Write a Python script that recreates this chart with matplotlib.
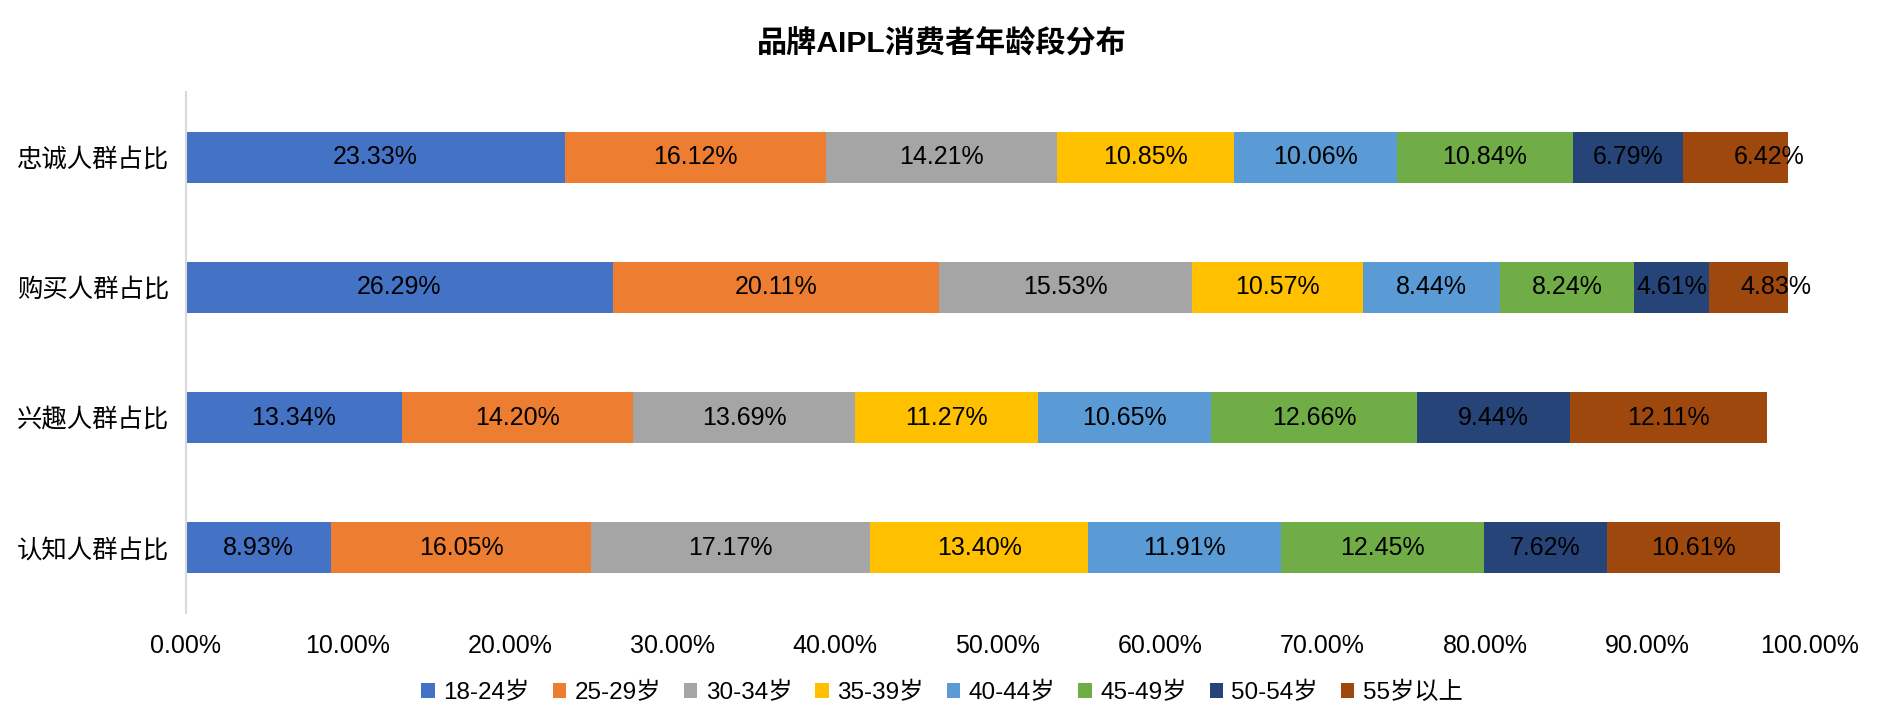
import matplotlib
matplotlib.use("Agg")
import matplotlib.pyplot as plt
from matplotlib.ticker import FuncFormatter, MultipleLocator

plt.rcParams['font.family'] = ['Liberation Sans', 'Noto Sans CJK SC', 'DejaVu Sans']

title = "品牌AIPL消费者年龄段分布"
categories = ["忠诚人群占比", "购买人群占比", "兴趣人群占比", "认知人群占比"]
series_names = ["18-24岁", "25-29岁", "30-34岁", "35-39岁", "40-44岁", "45-49岁", "50-54岁", "55岁以上"]
# values in percent, per series, in the order of categories
s_18_24 = [23.33, 26.29, 13.34, 8.93]
s_25_29 = [16.12, 20.11, 14.20, 16.05]
s_30_34 = [14.21, 15.53, 13.69, 17.17]
s_35_39 = [10.85, 10.57, 11.27, 13.40]
s_40_44 = [10.06, 8.44, 10.65, 11.91]
s_45_49 = [10.84, 8.24, 12.66, 12.45]
s_50_54 = [6.79, 4.61, 9.44, 7.62]
s_55_up = [6.42, 4.83, 12.11, 10.61]
series = [s_18_24, s_25_29, s_30_34, s_35_39, s_40_44, s_45_49, s_50_54, s_55_up]

colors = ["#4472C4", "#ED7D31", "#A5A5A5", "#FFC000", "#5B9BD5", "#70AD47", "#264478", "#9E480E"]

W, H = 1884, 725
fig = plt.figure(figsize=(W / 100, H / 100), dpi=100)
ax = fig.add_axes([185.6 / W, (H - 613) / H, (1810 - 185.6) / W, (613 - 92) / H])

ypos = list(range(len(categories)))
left = [0.0] * len(categories)
# label shift (fraction of axis) for a few manually-moved labels: (series idx, category idx) -> dx
label_shift = {(7, 0): 0.021, (7, 1): 0.017}
for si, (name, vals, c) in enumerate(zip(series_names, series, colors)):
    fr = [v / 100 for v in vals]
    ax.barh(ypos, fr, left=left, height=0.39, color=c, label=name, linewidth=0)
    for ci, (l, w, v) in enumerate(zip(left, fr, vals)):
        dx = label_shift.get((si, ci), 0.0)
        ax.text(l + w / 2 + dx, ci, f"{v:.2f}%", ha="center", va="center",
                fontsize=18, color="black")
    left = [a + b for a, b in zip(left, fr)]

ax.set_xlim(0, 1)
ax.set_ylim(len(categories) - 0.5, -0.5)
ax.set_yticks(ypos)
ax.set_yticklabels(categories, fontsize=18.3)
ax.xaxis.set_major_locator(MultipleLocator(0.1))
ax.xaxis.set_major_formatter(FuncFormatter(lambda x, p: f"{x * 100:.2f}%"))
ax.tick_params(axis="x", length=0, labelsize=18, pad=15)
ax.tick_params(axis="y", length=0, pad=12)
for s in ["top", "right", "bottom"]:
    ax.spines[s].set_visible(False)
ax.spines["left"].set_color("#D9D9D9")
ax.spines["left"].set_linewidth(1.5)

fig.text(0.5, 1 - 44 / H, title, ha="center", va="center", fontsize=21.7, fontweight="bold")

fig.legend(loc="center", bbox_to_anchor=(0.5, 1 - 693 / H), ncol=8, frameon=False,
           fontsize=17.5, handlelength=0.55, handleheight=0.55, handletextpad=0.35,
           columnspacing=0.95)

fig.savefig("out.png", dpi=100)
